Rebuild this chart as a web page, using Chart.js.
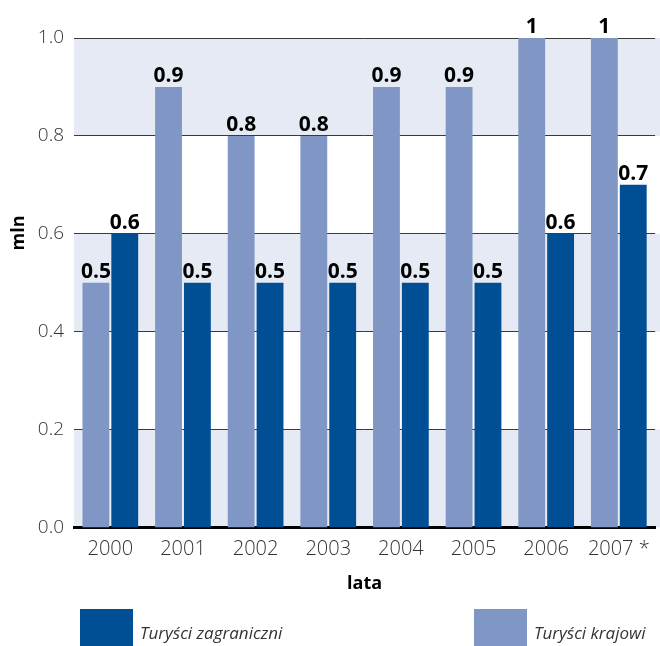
<!DOCTYPE html>
<html>
<head>
<meta charset="utf-8">
<script src="https://cdn.jsdelivr.net/npm/chart.js@4"></script>
<style>
html,body{margin:0;padding:0;background:#fff;}
#wrap{position:relative;width:660px;height:646px;}
</style>
</head>
<body>
<div id="wrap"><canvas id="c" width="660" height="646"></canvas></div>
<script>
const categories = ['2000','2001','2002','2003','2004','2005','2006','2007 *'];
const turysciKrajowi = [0.5, 0.9, 0.8, 0.8, 0.9, 0.9, 1, 1];
const turysciZagraniczni = [0.6, 0.5, 0.5, 0.5, 0.5, 0.5, 0.6, 0.7];
const seriesNames = ['Turyści krajowi', 'Turyści zagraniczni'];
const yTicks = [0, 0.2, 0.4, 0.6, 0.8, 1.0];
const bandRanges = [[0, 0.2], [0.4, 0.6], [0.8, 1.0]];
const yTitle = 'mln';
const xTitle = 'lata';

const LIGHT = '#8097c5';
const DARK = '#004f95';
const BAND = '#e6eaf5';
const TXT = '#333333';
const FONT = "'Open Sans', 'DejaVu Sans', sans-serif";

const bandsPlugin = {
  id: 'bands',
  beforeDraw(chart) {
    const {ctx, chartArea} = chart;
    const y = chart.scales.y;
    ctx.save();
    ctx.fillStyle = BAND;
    bandRanges.forEach(([a, b]) => {
      const top = y.getPixelForValue(b);
      const bot = y.getPixelForValue(a);
      ctx.fillRect(chartArea.left, top, chart.width - chartArea.left, bot - top);
    });
    ctx.restore();
  }
};

const labelsPlugin = {
  id: 'valueLabels',
  afterDatasetsDraw(chart) {
    const {ctx} = chart;
    ctx.save();
    ctx.font = "bold 21px " + FONT;
    ctx.fillStyle = '#000';
    ctx.textAlign = 'center';
    ctx.textBaseline = 'alphabetic';
    chart.data.datasets.forEach((ds, di) => {
      chart.getDatasetMeta(di).data.forEach((bar, i) => {
        ctx.fillText(String(ds.data[i]), bar.x, bar.y - 5);
      });
    });
    ctx.restore();
  }
};

const extrasPlugin = {
  id: 'extras',
  afterDraw(chart) {
    const {ctx} = chart;
    ctx.save();
    ctx.font = "bold 18px " + FONT;
    ctx.fillStyle = '#000';
    ctx.translate(19, 233);
    ctx.rotate(-Math.PI / 2);
    ctx.textAlign = 'center';
    ctx.textBaseline = 'middle';
    ctx.fillText(yTitle, 0, 0);
    ctx.restore();
    ctx.save();
    const items = [
      {x: 80, color: DARK, text: seriesNames[1]},
      {x: 474, color: LIGHT, text: seriesNames[0]}
    ];
    ctx.font = "italic 17px " + FONT;
    ctx.textBaseline = 'alphabetic';
    ctx.textAlign = 'left';
    items.forEach(it => {
      ctx.fillStyle = it.color;
      ctx.fillRect(it.x, 609, 53, 37);
      ctx.fillStyle = TXT;
      ctx.fillText(it.text, it.x + 60, 639);
    });
    ctx.restore();
  }
};

new Chart(document.getElementById('c'), {
  type: 'bar',
  data: {
    labels: categories,
    datasets: [
      {label: seriesNames[0], data: turysciKrajowi, backgroundColor: LIGHT,
       categoryPercentage: 0.795, barPercentage: 0.93},
      {label: seriesNames[1], data: turysciZagraniczni, backgroundColor: DARK,
       categoryPercentage: 0.795, barPercentage: 0.93}
    ]
  },
  options: {
    responsive: false,
    animation: false,
    layout: {padding: {top: 38, right: 4, bottom: 51, left: 0}},
    plugins: {legend: {display: false}, tooltip: {enabled: false}},
    scales: {
      x: {
        grid: {display: false, drawTicks: false},
        border: {display: true, color: '#000', width: 3},
        ticks: {color: TXT, font: {family: FONT, size: 20, weight: 300}, padding: 10, maxRotation: 0},
        title: {display: true, text: xTitle, color: '#000', font: {family: FONT, size: 18, weight: 'bold'}, padding: {top: 2, bottom: 0}}
      },
      y: {
        min: 0, max: 1,
        afterFit(scale) { scale.width = 74; },
        afterBuildTicks(scale) { scale.ticks = yTicks.map(v => ({value: v})); },
        grid: {
          drawTicks: false,
          color: '#3a3a3a',
          lineWidth: ctx => (ctx.tick && ctx.tick.value === 0 ? 0 : 1)
        },
        border: {display: false},
        ticks: {color: TXT, font: {family: FONT, size: 19, weight: 300}, padding: 10,
                callback: v => Number(v).toFixed(1)}
      }
    }
  },
  plugins: [bandsPlugin, labelsPlugin, extrasPlugin]
});
</script>
</body>
</html>
